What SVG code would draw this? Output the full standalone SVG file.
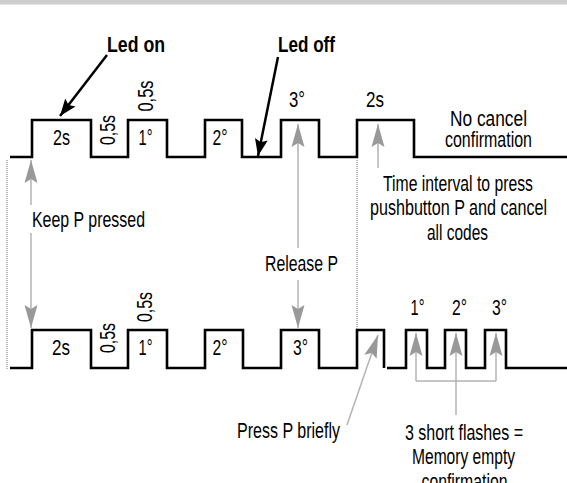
<svg xmlns="http://www.w3.org/2000/svg" width="567" height="483" viewBox="0 0 567 483">
<style>
text{font-family:"Liberation Sans Narrow","Liberation Sans",Arial,sans-serif;font-size:22px;fill:#000}
.b{font-weight:bold;font-size:22px}
.m{text-anchor:middle}
.wave{fill:none;stroke:#000;stroke-width:2.6;stroke-linejoin:miter}
.g{fill:none;stroke:#b3b3b3;stroke-width:1.5}
.k{fill:none;stroke:#000;stroke-width:2.5}
.dot{fill:none;stroke:#777;stroke-width:1;stroke-dasharray:1 1}
</style>
<defs>
<marker id="ga" viewBox="-24 -7 25 14" refX="0" refY="0" markerWidth="25" markerHeight="14" markerUnits="userSpaceOnUse" orient="auto">
<path d="M0,0 L-23,-6.5 L-19,0 L-23,6.5 Z" fill="#999"/>
</marker>
<marker id="ka" viewBox="-18 -7 19 14" refX="0" refY="0" markerWidth="19" markerHeight="14" markerUnits="userSpaceOnUse" orient="auto">
<path d="M0,0 L-17,-6.5 L-14,0 L-17,6.5 Z" fill="#000"/>
</marker>
</defs>
<rect x="0" y="0" width="567" height="4.5" fill="#cdcdcd"/>
<g id="waveforms">
<path class="wave" d="M10,157 H32 V120 H91 V157 H128 V120 H167 V157 H205 V120 H242 V157 H281 V120 H319 V157 H357 V120 H414 V157 H567"/>
<path class="wave" d="M10,368 H32 V330 H91 V368 H128 V330 H167 V368 H205 V330 H243 V368 H281 V330 H319 V368 H357 V330 H384 V368"/>
<path class="wave" d="M387,368 H406 V330 H427 V368 H445 V330 H466 V368 H485 V330 H506 V368 H567"/>
</g>
<g id="connectors">
<line class="dot" x1="7" y1="160" x2="7" y2="369"/>
<line class="dot" x1="357" y1="160" x2="357" y2="329"/>
<line class="k" x1="107" y1="55" x2="60" y2="116" marker-end="url(#ka)"/>
<line class="k" x1="278" y1="57" x2="258" y2="156" marker-end="url(#ka)"/>
<line class="g" x1="31" y1="205" x2="31" y2="160" marker-end="url(#ga)"/>
<line class="g" x1="31" y1="233" x2="31" y2="328" marker-end="url(#ga)"/>
<line class="g" x1="298" y1="248" x2="298" y2="124" marker-end="url(#ga)"/>
<line class="g" x1="298" y1="280" x2="298" y2="328" marker-end="url(#ga)"/>
<line class="g" x1="378" y1="168" x2="378" y2="124" marker-end="url(#ga)"/>
<line class="g" x1="347" y1="425" x2="378" y2="335" marker-end="url(#ga)"/>
<path class="g" d="M416,381 H496"/>
<line class="g" x1="416" y1="381" x2="416" y2="333" marker-end="url(#ga)"/>
<line class="g" x1="456" y1="415" x2="456" y2="333" marker-end="url(#ga)"/>
<line class="g" x1="496" y1="381" x2="496" y2="333" marker-end="url(#ga)"/>
</g>
<g id="labels">
<text class="b m" x="136" y="52" textLength="58" lengthAdjust="spacingAndGlyphs">Led on</text>
<text class="b m" x="306.5" y="52" textLength="57" lengthAdjust="spacingAndGlyphs">Led off</text>
<text class="m" x="61.5" y="145" textLength="17" lengthAdjust="spacingAndGlyphs">2s</text>
<text class="m" transform="rotate(-90 115 130)" x="115" y="130" textLength="30" lengthAdjust="spacingAndGlyphs">0,5s</text>
<text class="m" transform="rotate(-90 153 96)" x="153" y="96" textLength="31" lengthAdjust="spacingAndGlyphs">0,5s</text>
<text class="m" x="145.5" y="145" textLength="14" lengthAdjust="spacingAndGlyphs">1°</text>
<text class="m" x="220" y="145" textLength="15" lengthAdjust="spacingAndGlyphs">2°</text>
<text class="m" x="297" y="107" textLength="16" lengthAdjust="spacingAndGlyphs">3°</text>
<text class="m" x="375" y="107" textLength="18" lengthAdjust="spacingAndGlyphs">2s</text>
<text class="m" x="488.5" y="126" textLength="77" lengthAdjust="spacingAndGlyphs">No cancel</text>
<text class="m" x="488.5" y="147" textLength="87" lengthAdjust="spacingAndGlyphs">confirmation</text>
<text x="32" y="227" textLength="113" lengthAdjust="spacingAndGlyphs">Keep P pressed</text>
<text class="m" x="301.5" y="271" textLength="73" lengthAdjust="spacingAndGlyphs">Release P</text>
<text class="m" x="458" y="191" textLength="150" lengthAdjust="spacingAndGlyphs">Time interval to press</text>
<text class="m" x="458.5" y="215" textLength="177" lengthAdjust="spacingAndGlyphs">pushbutton P and cancel</text>
<text class="m" x="457.5" y="240" textLength="61" lengthAdjust="spacingAndGlyphs">all codes</text>
<text class="m" x="417.5" y="315" textLength="14" lengthAdjust="spacingAndGlyphs">1°</text>
<text class="m" x="459.5" y="315" textLength="15" lengthAdjust="spacingAndGlyphs">2°</text>
<text class="m" x="499.5" y="315" textLength="15" lengthAdjust="spacingAndGlyphs">3°</text>
<text class="m" x="61" y="355" textLength="18" lengthAdjust="spacingAndGlyphs">2s</text>
<text class="m" transform="rotate(-90 115 338)" x="115" y="338" textLength="30" lengthAdjust="spacingAndGlyphs">0,5s</text>
<text class="m" transform="rotate(-90 152 307)" x="152" y="307" textLength="30" lengthAdjust="spacingAndGlyphs">0,5s</text>
<text class="m" x="145.5" y="355" textLength="14" lengthAdjust="spacingAndGlyphs">1°</text>
<text class="m" x="220" y="355" textLength="15" lengthAdjust="spacingAndGlyphs">2°</text>
<text class="m" x="300.5" y="355" textLength="15" lengthAdjust="spacingAndGlyphs">3°</text>
<text class="m" x="288.5" y="438" textLength="103" lengthAdjust="spacingAndGlyphs">Press P briefly</text>
<text class="m" x="464" y="440" textLength="118" lengthAdjust="spacingAndGlyphs">3 short flashes =</text>
<text class="m" x="463.5" y="464" textLength="103" lengthAdjust="spacingAndGlyphs">Memory empty</text>
<text class="m" x="464.5" y="489" textLength="86" lengthAdjust="spacingAndGlyphs">confirmation</text>
</g>
</svg>
